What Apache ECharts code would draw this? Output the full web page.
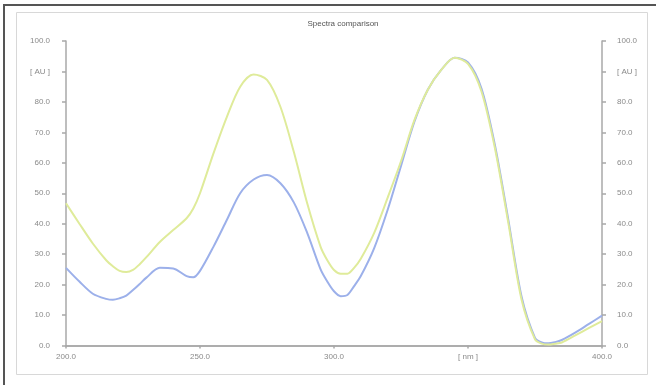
<!DOCTYPE html>
<html>
<head>
<meta charset="utf-8">
<script src="https://cdn.jsdelivr.net/npm/echarts@6/dist/echarts.min.js"></script>
<style>
html,body{margin:0;padding:0;background:#fff;}
#chart{width:656px;height:385px;}
</style>
</head>
<body>
<div id="chart"></div>
<script>
var wavelengths = [200,205,210,215,217.5,220,222.5,225,227.5,230,235,240,245,247.5,250,255,260,265,270,275,280,285,290,295,297.5,300,302.5,305,307.5,310,315,320,325,330,335,340,345,350,355,360,365,370,375,377.5,380,382.5,385,390,395,400];
var spectrumYellow = [46.7,40,33.5,28,26,24.5,24.1,24.8,26.7,29,34,37.9,41.8,45,50,63,75,85,89,87.2,78.4,63.6,46.7,32.4,28,24.8,23.6,23.6,25.5,28.5,37,48.5,60.5,74,84,90.5,94.5,92.5,83.5,65,40.5,15,2,0.6,0.3,0.6,1,3.3,5.7,8];
var spectrumBlue = [25.5,21,17,15.3,15,15.5,16.4,18.2,20.2,22.3,25.5,25.3,22.8,22.4,24.5,32.4,41.2,50,54.5,56,53.3,47,37,25,21,17.8,16.2,16.6,19.5,22.8,32,44.5,59,73.5,84,90.5,94.5,93,84.5,66,41.5,16,2.5,1.0,0.7,1.1,1.8,4.2,7,9.8];
var xTickLabels = {200:'200.0',250:'250.0',300:'300.0',350:'[ nm ]',400:'400.0'};
var yTickLabels = {0:'0.0',10:'10.0',20:'20.0',30:'30.0',40:'40.0',50:'50.0',60:'60.0',70:'70.0',80:'80.0',90:'[ AU ]',100:'100.0'};
var titleText = 'Spectra comparison';

function pairs(xs, ys){ return xs.map(function(x,i){ return [x, ys[i]]; }); }

var axisLineStyle = {color:'#a8a8a8', width:1.5};
var labelStyle = {color:'#8a8a8a', fontSize:8, fontFamily:'Liberation Sans, Arial, sans-serif'};

var chart = echarts.init(document.getElementById('chart'), null, {renderer:'canvas'});
chart.setOption({
  animation:false,
  backgroundColor:'#fff',
  title:{text:titleText, left:338, top:15, textAlign:'center',
    textStyle:{fontSize:8, fontWeight:'normal', color:'#555', fontFamily:'Liberation Sans, Arial, sans-serif'}},
  graphic:[
    {type:'polyline', shape:{points:[[4,385],[4,5],[656,5]]}, style:{stroke:'#555', lineWidth:2, fill:null}, silent:true},
    {type:'rect', shape:{x:16.5,y:12.5,width:631,height:362}, style:{stroke:'#d8d8d8', lineWidth:1, fill:null}, silent:true}
  ],
  grid:{left:66, right:54, top:41, bottom:39.5, show:false},
  xAxis:[
    {type:'value', min:200, max:400, interval:50, position:'bottom',
     axisLine:{show:true, lineStyle:axisLineStyle},
     axisTick:{show:true, length:3, lineStyle:axisLineStyle},
     splitLine:{show:false},
     axisLabel:Object.assign({margin:7, formatter:function(v){return xTickLabels[v]!==undefined?xTickLabels[v]:'';}}, labelStyle)},
    {type:'value', min:200, max:400, interval:50, position:'top',
     axisLine:{show:true, lineStyle:axisLineStyle},
     axisTick:{show:true, inside:true, length:2, lineStyle:axisLineStyle},
     splitLine:{show:false}, axisLabel:{show:false}}
  ],
  yAxis:[
    {type:'value', min:0, max:100, interval:10, position:'left',
     axisLine:{show:true, lineStyle:axisLineStyle},
     axisTick:{show:true, length:4, lineStyle:axisLineStyle},
     splitLine:{show:false},
     axisLabel:Object.assign({margin:16, formatter:function(v){return yTickLabels[v]!==undefined?yTickLabels[v]:'';}}, labelStyle)},
    {type:'value', min:0, max:100, interval:10, position:'right',
     axisLine:{show:true, lineStyle:axisLineStyle},
     axisTick:{show:true, length:4, lineStyle:axisLineStyle},
     splitLine:{show:false},
     axisLabel:Object.assign({margin:15, formatter:function(v){return yTickLabels[v]!==undefined?yTickLabels[v]:'';}}, labelStyle)}
  ],
  series:[
    {type:'line', name:'Spectrum B', data:pairs(wavelengths, spectrumBlue), smooth:0.3, showSymbol:false,
     lineStyle:{color:'#9cb0ea', width:2}, xAxisIndex:0, yAxisIndex:0},
    {type:'line', name:'Spectrum A', data:pairs(wavelengths, spectrumYellow), smooth:0.3, showSymbol:false,
     lineStyle:{color:'#dfeb9a', width:2}, xAxisIndex:0, yAxisIndex:0}
  ]
});
</script>
</body>
</html>
